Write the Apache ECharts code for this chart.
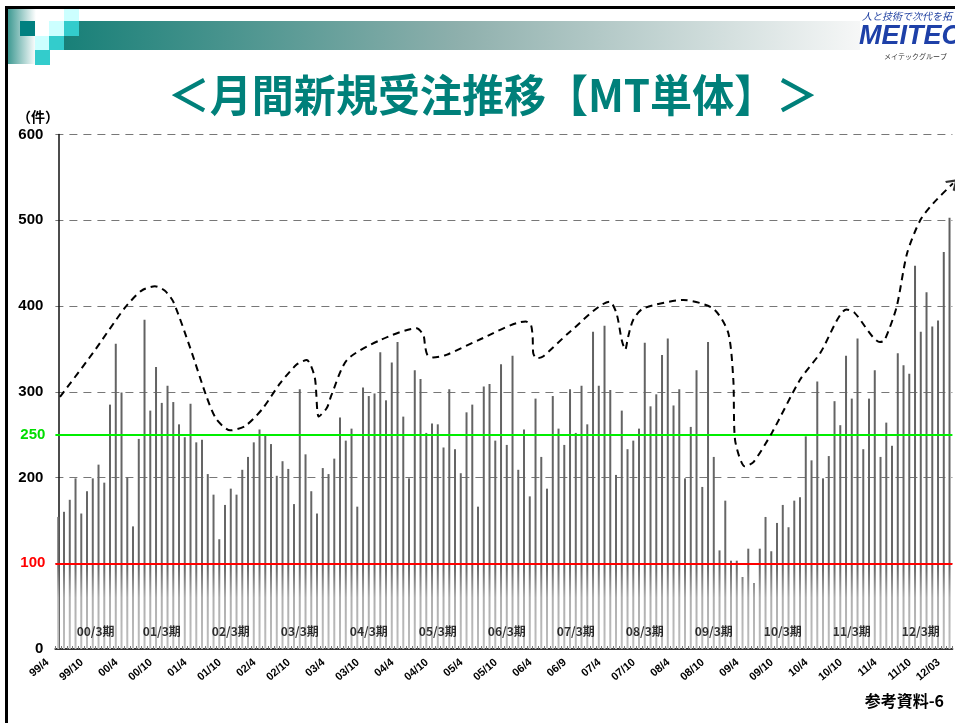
<!DOCTYPE html>
<html>
<head>
<meta charset="utf-8">
<script src="https://cdn.jsdelivr.net/npm/echarts@6/dist/echarts.min.js"></script>
<style>
html,body{margin:0;padding:0;background:#fff;}
#c{width:955px;height:723px;}
</style>
</head>
<body>
<div id="c"></div>
<script>
// ---- data ----
const startYear = 1999, startMonth = 4, monthCount = 156;
const orders = [
154,160,174,199,158,184,199,215,194,285,
356,299,200,143,245,384,278,329,287,307,
288,262,247,286,241,244,204,180,128,168,
187,180,209,224,241,256,250,239,202,219,
210,169,303,227,184,158,211,204,222,270,
243,257,166,305,295,298,346,290,334,358,
271,199,325,315,252,263,262,235,303,233,
205,276,285,166,306,309,243,332,238,342,
209,256,178,292,224,187,295,257,238,303,
252,307,262,370,307,377,302,203,278,233,
243,257,357,283,297,343,362,284,303,199,
259,325,189,358,224,115,173,103,103,84,
117,77,117,154,114,147,168,142,173,177,
248,220,312,199,225,289,261,342,292,362,
233,292,325,224,264,237,345,331,321,447,
370,416,376,383,463,503
];
const tickLabelIndex = [0,6,12,18,24,30,36,42,48,54,60,66,72,78,84,90,96,102,108,114,120,126,132,138,144,150,155];
const tickLabels = ['99/4','99/10','00/4','00/10','01/4','01/10','02/4','02/10','03/4','03/10','04/4','04/10','05/4','05/10','06/4','06/9','07/4','07/10','08/4','08/10','09/4','09/10','10/4','10/10','11/4','11/10','12/03'];
const periodLabels = ['00/3期','01/3期','02/3期','03/3期','04/3期','05/3期','06/3期','07/3期','08/3期','09/3期','10/3期','11/3期','12/3期'];
const periodCenter = [6.5,18,30,42,54,66,78,90,102,114,126,138,150];
const periodLabelValue = 20;
const greenLevel = 250, redLevel = 100;
// hand drawn trend curve (month index, orders)
const trend = [
[0.3,294],[6,345],[11.6,398],[14.5,418],[16.8,423],[18.5,418],[20,405],[23,350],[25.8,294],[27.5,268],
[29.9,255],[32.5,260],[35.5,280],[38.6,310],[41.5,332],[43.2,337],[44.6,317],[45.3,271],[46.7,281],[47.5,296],
[50.2,337],[55.9,360],[62.3,374],[63.5,366],[63.8,353],[64.2,343],[65.2,340],[67.5,343],[73,360],[81.3,382],
[82.2,378],[82.5,364],[82.6,345],[83.2,339],[84.3,341],[89,370],[95.9,405],[97.1,391],[98,360],[98.6,349],
[99.1,364],[100,384],[101.7,397],[108.7,407],[113.9,397],[116.5,369],[117.4,314],[117.7,244],[119.4,213],[120.9,218],
[124.1,252],[129,314],[132.5,345],[137.1,396],[138.5,392],[142.9,358],[143.7,360],[145.8,399],[147.6,461],[149.9,500],
[152.2,520],[155.6,543]
];

// ---- build ----
const months = [];
for (let i = 0; i < monthCount; i++) {
  const m = (startMonth - 1 + i) % 12 + 1;
  const y = startYear + Math.floor((startMonth - 1 + i) / 12);
  months.push(String(y % 100).padStart(2, '0') + '/' + m);
}
const labelMap = {};
tickLabelIndex.forEach((idx, k) => { labelMap[idx] = tickLabels[k]; });

const chart = echarts.init(document.getElementById('c'), null, {renderer: 'canvas'});
const last = trend[trend.length - 1];
const JP = '"Noto Sans CJK JP", sans-serif';
const NUM = '"Liberation Sans", Arial, sans-serif';

const option = {
  backgroundColor: '#fff',
  animation: false,
  grid: {left: 55.4, right: 2.6, top: 134.5, bottom: 74},
  xAxis: [{
    type: 'category', data: months, boundaryGap: true,
    axisLine: {lineStyle: {color: '#333', width: 2}},
    axisTick: {show: true, interval: 0, inside: true, length: 3, lineStyle: {color: '#777'}},
    axisLabel: {
      interval: (i) => labelMap[i] !== undefined,
      formatter: (v, i) => labelMap[i] || '',
      rotate: 40, fontSize: 11, fontWeight: 'bold', color: '#000', fontFamily: NUM, margin: 3,
      padding: [0, 14, 0, 0]
    },
    splitLine: {show: false}
  }, {
    type: 'value', min: -0.5, max: 155.5, show: false
  }],
  yAxis: {
    type: 'value', min: 0, max: 600, interval: 100,
    axisLine: {show: true, lineStyle: {color: '#111', width: 1.5}},
    axisTick: {show: false},
    axisLabel: {
      formatter: (v) => (v === redLevel ? '' : String(v)),
      fontSize: 15, fontWeight: 'bold', color: '#000', fontFamily: NUM, margin: 12
    },
    splitLine: {lineStyle: {color: '#777', type: [8, 6], width: 1}}
  },
  series: [{
    type: 'bar', data: orders, barWidth: 2, z: 2,
    itemStyle: {
      color: new echarts.graphic.LinearGradient(0, 134, 0, 649, [
        {offset: 0, color: '#5c5c5c'},
        {offset: 0.84, color: '#686868'},
        {offset: 0.9, color: '#aeaeae'},
        {offset: 1, color: '#bebebe'}
      ], true)
    },
    markLine: {
      silent: true, symbol: 'none', animation: false,
      data: [
        {yAxis: greenLevel, lineStyle: {color: '#00ee00', width: 2, type: 'solid'},
         label: {show: true, position: 'start', formatter: String(greenLevel), color: '#00dd00', fontSize: 15, fontWeight: 'bold', fontFamily: NUM, distance: 10}},
        {yAxis: redLevel, lineStyle: {color: '#ff0000', width: 2, type: 'solid'},
         label: {show: true, position: 'start', formatter: String(redLevel), color: '#ff0000', fontSize: 15, fontWeight: 'bold', fontFamily: NUM, distance: 10, padding: [10, 0, 0, 0]}}
      ]
    }
  }, {
    type: 'line', xAxisIndex: 1, data: trend, smooth: 0.25, symbol: 'none', clip: false, z: 5,
    lineStyle: {color: '#000', width: 2, type: [7, 5]}
  }, {
    type: 'scatter', xAxisIndex: 1, z: 6, clip: false,
    data: [last],
    symbol: 'path://M0,10 L6,0 L12,10', symbolSize: [12, 9], symbolRotate: -48,
    itemStyle: {color: 'rgba(0,0,0,0)', borderColor: '#000', borderWidth: 2}
  }, {
    type: 'scatter', xAxisIndex: 1, z: 7,
    data: periodCenter.map((x, k) => [x, periodLabelValue, periodLabels[k]]),
    symbolSize: 1, itemStyle: {color: 'rgba(0,0,0,0)'},
    label: {show: true, position: 'inside', formatter: (p) => p.data[2], color: '#000', fontSize: 12, fontWeight: 'bold', fontFamily: JP}
  }],
  graphic: [
    // header decoration
    {type: 'rect', shape: {x: 8, y: 9, width: 28, height: 55},
     style: {fill: new echarts.graphic.LinearGradient(0, 0, 1, 0, [{offset: 0, color: '#3f9a93'}, {offset: 1, color: '#ffffff'}])}},
    {type: 'rect', shape: {x: 64, y: 21, width: 796, height: 29},
     style: {fill: new echarts.graphic.LinearGradient(0, 0, 1, 0, [{offset: 0, color: '#188078'}, {offset: 0.5, color: '#8fb0ad'}, {offset: 1, color: '#f6f7f7'}])}},
    {type: 'rect', shape: {x: 20, y: 21, width: 15, height: 15}, style: {fill: '#008080'}},
    {type: 'rect', shape: {x: 49, y: 21, width: 15, height: 15}, style: {fill: '#ccffff'}},
    {type: 'rect', shape: {x: 64, y: 9, width: 15, height: 12}, style: {fill: '#ccffff'}},
    {type: 'rect', shape: {x: 64, y: 21, width: 15, height: 15}, style: {fill: '#33cccc'}},
    {type: 'rect', shape: {x: 35, y: 36, width: 14, height: 14}, style: {fill: '#ccffff'}},
    {type: 'rect', shape: {x: 49, y: 36, width: 15, height: 14}, style: {fill: '#33cccc'}},
    {type: 'rect', shape: {x: 35, y: 50, width: 15, height: 15}, style: {fill: '#33cccc'}},
    // frame
    {type: 'rect', shape: {x: 5, y: 6, width: 950, height: 3}, style: {fill: '#000'}},
    {type: 'rect', shape: {x: 5, y: 6, width: 3, height: 717}, style: {fill: '#000'}},
    // logo
    {type: 'text', x: 862, y: 16, style: {text: '人と技術で次代を拓', fill: '#1e3fa0', font: 'italic 10px ' + JP, textVerticalAlign: 'middle'}},
    {type: 'text', x: 859, y: 37, style: {text: 'MEITEC', fill: '#1e40a8', font: 'italic bold 27px ' + NUM, textVerticalAlign: 'middle'}},
    {type: 'text', x: 884, y: 56, style: {text: 'メイテックグループ', fill: '#333', font: '7px ' + JP, textVerticalAlign: 'middle'}},
    // title
    {type: 'text', x: 493, y: 95, scaleX: 0.955, style: {text: '＜月間新規受注推移【MT単体】＞', fill: '#00807a', font: 'bold 44px ' + JP, textAlign: 'center', textVerticalAlign: 'middle'}},
    // unit
    {type: 'text', x: 17, y: 117, style: {text: '（件）', fill: '#000', font: 'bold 14px ' + JP, textVerticalAlign: 'middle'}},
    // footer
    {type: 'text', x: 944, y: 701, style: {text: '参考資料-6', fill: '#000', font: 'bold 16px ' + JP, textAlign: 'right', textVerticalAlign: 'middle'}}
  ]
};
chart.setOption(option);
</script>
</body>
</html>
